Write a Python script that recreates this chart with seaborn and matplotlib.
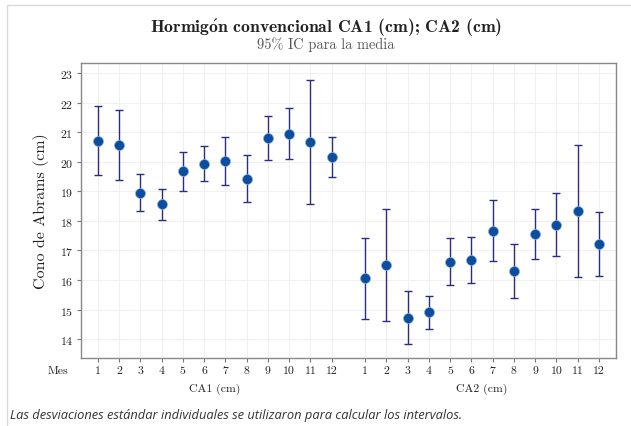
import numpy as np
import pandas as pd
import matplotlib
matplotlib.use("Agg")
import matplotlib.pyplot as plt
import matplotlib.transforms as mtransforms
from matplotlib.lines import Line2D
import seaborn as sns

# Datos (media e IC 95%)
meses = list(range(1, 13))
ca1_media = [20.71, 20.56, 18.95, 18.57, 19.67, 19.94, 20.03, 19.43, 20.80, 20.95, 20.68, 20.15]
ca1_sup = [21.87, 21.76, 19.58, 19.08, 20.32, 20.52, 20.83, 20.22, 21.54, 21.81, 22.75, 20.83]
ca1_inf = [19.55, 19.38, 18.34, 18.03, 19.02, 19.35, 19.20, 18.63, 20.06, 20.09, 18.57, 19.47]
ca2_media = [16.05, 16.50, 14.70, 14.93, 16.62, 16.69, 17.67, 16.29, 17.55, 17.85, 18.33, 17.23]
ca2_sup = [17.41, 18.39, 15.61, 15.47, 17.41, 17.46, 18.69, 17.20, 18.39, 18.93, 20.56, 18.30]
ca2_inf = [14.68, 14.62, 13.82, 14.35, 15.82, 15.91, 16.65, 15.40, 16.72, 16.80, 16.10, 16.14]
grupos = ["CA1 (cm)", "CA2 (cm)"]

sns.set_theme(style="whitegrid")
plt.rcParams["font.family"] = ["cmr10", "DejaVu Serif"]
plt.rcParams["axes.formatter.use_mathtext"] = True
plt.rcParams["mathtext.fontset"] = "cm"

GAP = 1.57
df = pd.DataFrame({
    "grupo": [grupos[0]] * 12 + [grupos[1]] * 12,
    "mes": meses + meses,
    "media": ca1_media + ca2_media,
    "sup": ca1_sup + ca2_sup,
    "inf": ca1_inf + ca2_inf,
})
df["x"] = np.where(df["grupo"] == grupos[0], df["mes"] - 1, df["mes"] - 1 + 11 + GAP)

fig = plt.figure(figsize=(6.31, 4.27), dpi=100)
ax = fig.add_axes([81 / 631, 1 - 359.3 / 427, 535 / 631, 295.3 / 427])

navy = "#2a2e7c"
ax.errorbar(df["x"], df["media"],
            yerr=[df["media"] - df["inf"], df["sup"] - df["media"]],
            fmt="none", ecolor=navy, elinewidth=1.0, capsize=3.2, capthick=1.0, zorder=2)
sns.scatterplot(data=df, x="x", y="media", ax=ax, s=52, color="#0b4d9e",
                edgecolor="#8fb0d8", linewidth=0.5, zorder=3, legend=False)

ax.set_xlim(-0.79, 11 + GAP + 11 + 0.8)
ax.set_ylim(13.35, 23.34)
ax.set_yticks(range(14, 24))
ax.set_xticks(df["x"])
ax.set_xticklabels([str(m) for m in df["mes"]])
ax.tick_params(axis="both", labelsize=8.5, colors="#222222", length=3, width=0.8,
               color="#777777", pad=2.5, direction="out", bottom=True, left=True)
ax.set_xlabel("")
ax.set_ylabel("Cono de Abrams (cm)", fontsize=11.5, color="#222222", labelpad=8)
ax.grid(True, color="#f0f0f0", linewidth=0.8)
for s in ax.spines.values():
    s.set_color("#888888")
    s.set_linewidth(1.0)

# etiquetas de grupo y "Mes"
trans = mtransforms.blended_transform_factory(ax.transData, fig.transFigure)
ax.text(5.5, 1 - 389 / 427, grupos[0], transform=trans, ha="center", va="center",
        fontsize=8.5, color="#222222")
ax.text(11 + GAP + 5.5, 1 - 389 / 427, grupos[1], transform=trans, ha="center", va="center",
        fontsize=8.5, color="#222222")
fig.text(58 / 631, 1 - 371.5 / 427, "Mes", ha="center", va="center", fontsize=8.5, color="#222222")

# la o con tilde va en mathtext (cmb10 no la trae)
fig.text(326 / 631, 1 - 27 / 427,
         r"Hormig$\mathbf{\acute{o}}$n convencional CA1 (cm); CA2 (cm)",
         ha="center", va="center", fontsize=12.7, fontweight="bold",
         family=["cmb10", "DejaVu Serif"], color="#222222")
fig.text(326 / 631, 1 - 45 / 427, "95% IC para la media", ha="center", va="center",
         fontsize=10.3, color="#555555")

fig.text(10 / 631, 1 - 416 / 427,
         "Las desviaciones estándar individuales se utilizaron para calcular los intervalos.",
         ha="left", va="center", fontsize=9.3, style="italic", family="Open Sans", color="#333333")

# marco del recuadro
fig.add_artist(Line2D([7 / 631, 7 / 631], [0, 1 - 6 / 427], color="#d9d9d9", linewidth=1,
                      transform=fig.transFigure))
fig.add_artist(Line2D([7 / 631, 1], [1 - 6 / 427, 1 - 6 / 427], color="#d9d9d9", linewidth=1,
                      transform=fig.transFigure))

fig.savefig("out.png", dpi=100)
